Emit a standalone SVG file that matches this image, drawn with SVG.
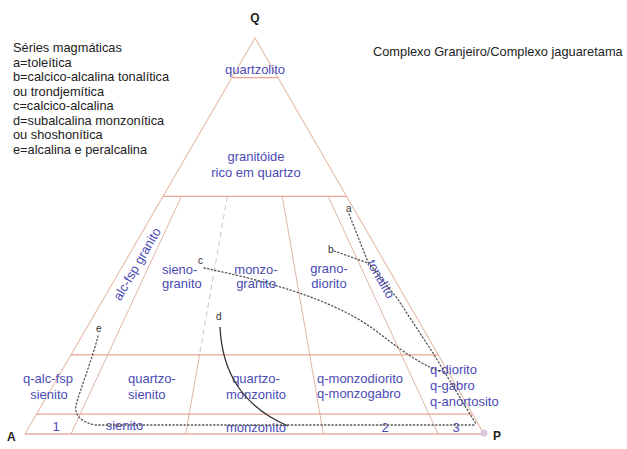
<svg xmlns="http://www.w3.org/2000/svg" width="627" height="449" viewBox="0 0 627 449">
<style>
text{font-family:"Liberation Sans",Arial,sans-serif}
.lg{font-size:12.8px;fill:#222}
.bl{font-size:13px;fill:#4b4bb5}
.c{text-anchor:middle}
.ax{font-size:12px;font-weight:bold;fill:#222}
.sl{font-size:10px;fill:#333}
.edge{fill:none;stroke:#e6c2b0;stroke-width:1.2}
.hz{fill:none;stroke:#eba394;stroke-width:1.2}
.rad{fill:none;stroke:#dfb6a6;stroke-width:1}
.dot{fill:none;stroke:#555;stroke-width:1.3;stroke-dasharray:1.3 2.4;stroke-linecap:round}
</style>
<rect width="627" height="449" fill="#fff"/>
<g id="legend">
<text class="lg" x="13" y="52">Séries magmáticas</text>
<text class="lg" x="13" y="66.5">a=toleítica</text>
<text class="lg" x="13" y="81">b=calcico-alcalina tonalítica</text>
<text class="lg" x="13" y="95.5">ou trondjemítica</text>
<text class="lg" x="13" y="110">c=calcico-alcalina</text>
<text class="lg" x="13" y="124.5">d=subalcalina monzonítica</text>
<text class="lg" x="13" y="139">ou shoshonítica</text>
<text class="lg" x="13" y="153.5">e=alcalina e peralcalina</text>
</g>
<g id="title"><text class="lg" x="373" y="56">Complexo Granjeiro/Complexo jaguaretama</text></g>
<g id="triangle">
<path class="edge" d="M25,434 L255,38 L484,434 Z"/>
<line class="hz" x1="232" y1="77.6" x2="277.9" y2="77.6"/>
<line class="hz" x1="163" y1="196.4" x2="346.6" y2="196.4"/>
<line class="hz" x1="71" y1="354.8" x2="438.2" y2="354.8"/>
<line class="hz" x1="36.5" y1="414.2" x2="472.6" y2="414.2"/>
<line class="hz" x1="25" y1="434" x2="484" y2="434"/>
<line class="rad" x1="181.4" y1="196.4" x2="70.9" y2="434"/>
<line class="rad" x1="227.3" y1="196.4" x2="199.5" y2="354.8" stroke-dasharray="5 4" style="stroke:#cfc0bc"/>
<line class="rad" x1="199.5" y1="354.8" x2="185.7" y2="434"/>
<line class="rad" x1="282.3" y1="196.4" x2="323.4" y2="434"/>
<line class="rad" x1="328.2" y1="196.4" x2="438.1" y2="434"/>
<circle cx="484" cy="433" r="3.5" fill="#dcc6dc"/>
</g>
<g id="vertices">
<text class="ax c" x="255" y="22">Q</text>
<text class="ax" x="7" y="441">A</text>
<text class="ax" x="493" y="440">P</text>
</g>
<g id="fields">
<text class="bl c" x="255" y="74">quartzolito</text>
<text class="bl c" x="256" y="161">granitóide</text>
<text class="bl c" x="256" y="177">rico em quartzo</text>
<text class="bl c" transform="translate(137,264) rotate(-60)" y="4.5">alc-fsp granito</text>
<text class="bl" x="162" y="274">sieno-</text>
<text class="bl" x="162" y="288">granito</text>
<text class="bl c" x="256" y="274">monzo-</text>
<text class="bl c" x="256" y="288">granito</text>
<text class="bl c" x="329" y="273">grano-</text>
<text class="bl c" x="329" y="288">diorito</text>
<text class="bl c" transform="translate(381,279) rotate(60)" y="4.5">tonalito</text>
<text class="bl c" x="48" y="383">q-alc-fsp</text>
<text class="bl c" x="49" y="399">sienito</text>
<text class="bl" x="128" y="383">quartzo-</text>
<text class="bl" x="128" y="399">sienito</text>
<text class="bl c" x="256" y="383">quartzo-</text>
<text class="bl c" x="256" y="399">monzonito</text>
<text class="bl" x="317" y="383">q-monzodiorito</text>
<text class="bl" x="317" y="398">q-monzogabro</text>
<text class="bl" x="430" y="374">q-diorito</text>
<text class="bl" x="430" y="390">q-gabro</text>
<text class="bl" x="430" y="406">q-anortosito</text>
<text class="bl c" x="56" y="431">1</text>
<text class="bl c" x="124.5" y="430">sienito</text>
<text class="bl c" x="256" y="432">monzonito</text>
<text class="bl c" x="385" y="432">2</text>
<text class="bl c" x="456" y="432">3</text>
</g>
<g id="series">
<path class="dot" d="M98,336 C92,360 80,390 76,405 C74,416 82,422 95,425 L476,425"/>
<path class="dot" d="M349,214 L368,262 L397,298 L433,353 L476,424"/>
<path class="dot" d="M334,251 L368,263"/>
<path class="dot" d="M204,268 C262,280 330,298 372,328 C395,345 415,362 441,372"/>
<path d="M220,327 C222,370 240,405 288,426" fill="none" stroke="#333" stroke-width="1.3"/>
<text class="sl" x="346" y="212">a</text>
<text class="sl" x="328" y="253">b</text>
<text class="sl" x="198" y="264">c</text>
<text class="sl" x="216" y="320">d</text>
<text class="sl" x="96" y="332">e</text>
</g>
</svg>
